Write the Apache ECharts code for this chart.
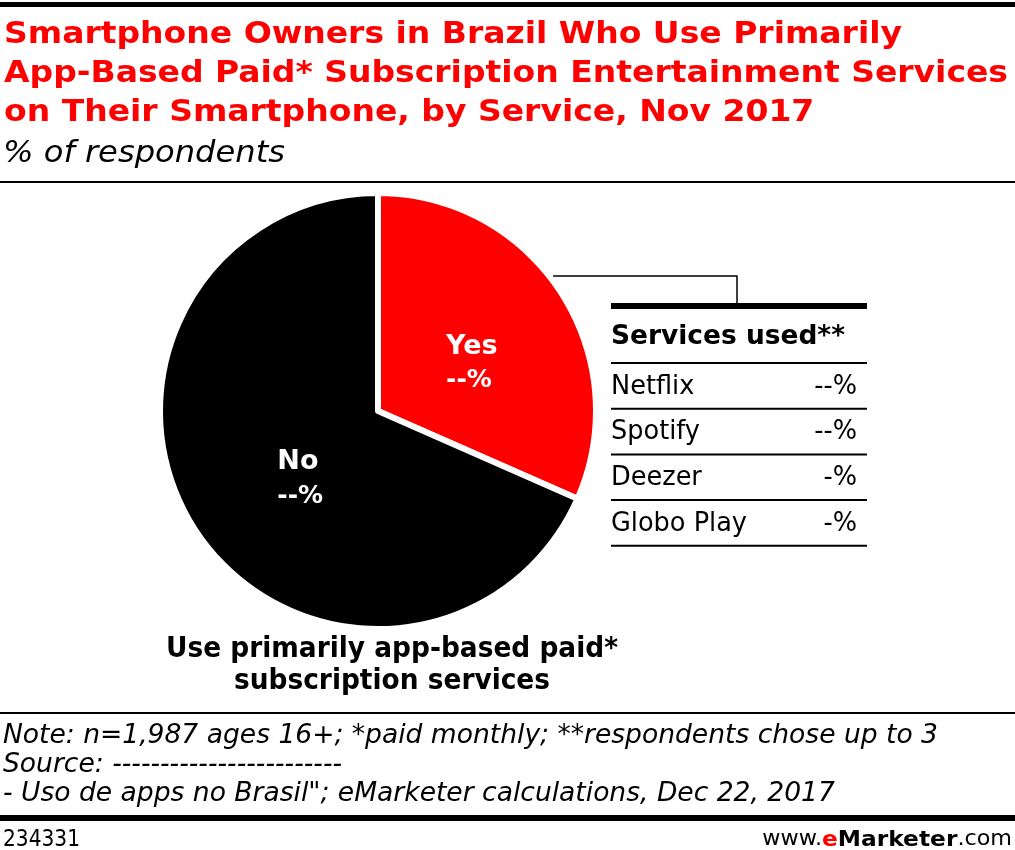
<!DOCTYPE html>
<html>
<head>
<meta charset="utf-8">
<script src="https://cdn.jsdelivr.net/npm/echarts@6/dist/echarts.min.js"></script>
<style>
html,body{margin:0;padding:0;background:#fff;}
#chart{width:1015px;height:850px;}
</style>
</head>
<body>
<div id="chart"></div>
<script>
// ---- data ----
const categories = ['Yes', 'No'];
const values = [31.6, 68.4];
const valueLabels = ['--%', '--%'];
const services = ['Netflix', 'Spotify', 'Deezer', 'Globo Play'];
const serviceLabels = ['--%', '--%', '-%', '-%'];
const titleLines = [
  'Smartphone Owners in Brazil Who Use Primarily',
  'App-Based Paid* Subscription Entertainment Services',
  'on Their Smartphone, by Service, Nov 2017'
];
const subtitle = '% of respondents';
const pieCaption = ['Use primarily app-based paid*', 'subscription services'];
const tableHeader = 'Services used**';
const notes = [
  'Note: n=1,987 ages 16+; *paid monthly; **respondents chose up to 3',
  'Source: ------------------------',
  '- Uso de apps no Brasil"; eMarketer calculations, Dec 22, 2017'
];
const chartId = '234331';

// ---- styles ----
const RED = '#ff0000';
const FC = '"DejaVu Sans Condensed", "DejaVu Sans", sans-serif';
const FN = '"DejaVu Sans", sans-serif';
const colors = [RED, '#000000'];
const labelOffsets = [[0, 13], [16, 6]];

const mctx = document.createElement('canvas').getContext('2d');
function fit(text, font, target){ mctx.font = font; return target / mctx.measureText(text).width; }

const chart = echarts.init(document.getElementById('chart'));
const g = [];
function txt(x, y, text, font, fill, opts){
  opts = opts || {};
  const el = {type:'text', x:x, y:y, style:Object.assign({text:text, fill:fill, font:font, textVerticalAlign:opts.va||'middle', textAlign:opts.align||'left'}, opts.style||{})};
  if (opts.sx) el.scaleX = opts.sx;
  g.push(el);
}

// top thick bar + title
g.push({type:'rect', shape:{x:0,y:2,width:1015,height:5}, style:{fill:'#000'}});
const titleFont = 'bold 31px ' + FC;
const titleSx = fit(titleLines[0], titleFont, 898);
titleLines.forEach((t,i)=> txt(4, 19+i*39, t, titleFont, RED, {va:'top', sx:titleSx}));
const subFont = 'italic 30px ' + FC;
txt(3, 139, subtitle, subFont, '#000', {va:'top', sx:fit(subtitle, subFont, 282)});
g.push({type:'rect', shape:{x:0,y:181,width:1015,height:2}, style:{fill:'#000'}});

// connector
g.push({type:'polyline', shape:{points:[[553,276],[737,276],[737,304]]}, style:{stroke:'#000', lineWidth:1.5, fill:null}});
// table
g.push({type:'rect', shape:{x:611,y:303,width:256,height:6}, style:{fill:'#000'}});
const hFont = 'bold 27px ' + FN;
txt(611, 337, tableHeader, hFont, '#000', {sx:fit(tableHeader, hFont, 234)});
const rowFont = '26px ' + FN;
const rowSx = fit(services[3], rowFont, 136);
const rowTop = 363, rowH = 45.7;
g.push({type:'rect', shape:{x:611,y:rowTop-1,width:256,height:2}, style:{fill:'#000'}});
services.forEach((s,i)=>{
  const cy = rowTop + rowH*(i+0.5) + 1;
  txt(611, cy, s, rowFont, '#000', {sx:rowSx});
  txt(857, cy, serviceLabels[i], rowFont, '#000', {align:'right', sx:rowSx});
  g.push({type:'rect', shape:{x:611,y:rowTop+rowH*(i+1)-1,width:256,height:2}, style:{fill:'#000'}});
});

// pie caption
const capFont = 'bold 28px ' + FN;
const capSx = fit(pieCaption[0], capFont, 452);
pieCaption.forEach((t,i)=> txt(392, 650+i*32, t, capFont, '#000', {align:'center', sx:capSx}));

// footer
g.push({type:'rect', shape:{x:0,y:712,width:1015,height:2}, style:{fill:'#000'}});
const noteFont = 'italic 26px ' + FC;
const noteSx = fit(notes[0], noteFont, 935);
notes.forEach((t,i)=> txt(3, 736+i*29, t, noteFont, '#000', {sx:noteSx}));
g.push({type:'rect', shape:{x:0,y:815,width:1015,height:6}, style:{fill:'#000'}});
const idFont = '23px ' + FC;
txt(3, 840, chartId, idFont, '#000', {sx:fit(chartId, idFont, 77)});
g.push({type:'text', x:1012, y:840, scaleX:1.06, style:{
  rich:{a:{fill:'#000', font:'21px '+FN}, b:{fill:RED, font:'bold 22px '+FN}, c:{fill:'#000', font:'bold 22px '+FN}},
  text:'{a|www.}{b|e}{c|Marketer}{a|.com}', textVerticalAlign:'middle', textAlign:'right'}});

chart.setOption({
  animation:false,
  graphic:g,
  series:[{
    type:'pie',
    center:[378,411],
    radius:[0,218],
    startAngle:90,
    clockwise:true,
    silent:true,
    itemStyle:{borderColor:'#fff', borderWidth:6},
    label:{
      position:'inside',
      formatter:(p)=>'{n|'+p.name+'}\n{v|'+valueLabels[p.dataIndex]+'}',
      rich:{
        n:{color:'#fff', fontFamily:FN, fontWeight:'bold', fontSize:27, lineHeight:36, align:'left'},
        v:{color:'#fff', fontFamily:FN, fontWeight:'bold', fontSize:25, lineHeight:32, align:'left'}
      }
    },
    labelLine:{show:false},
    data:categories.map((c,i)=>({name:c, value:values[i], itemStyle:{color:colors[i]}, label:{offset:labelOffsets[i]}}))
  }]
});
</script>
</body>
</html>
